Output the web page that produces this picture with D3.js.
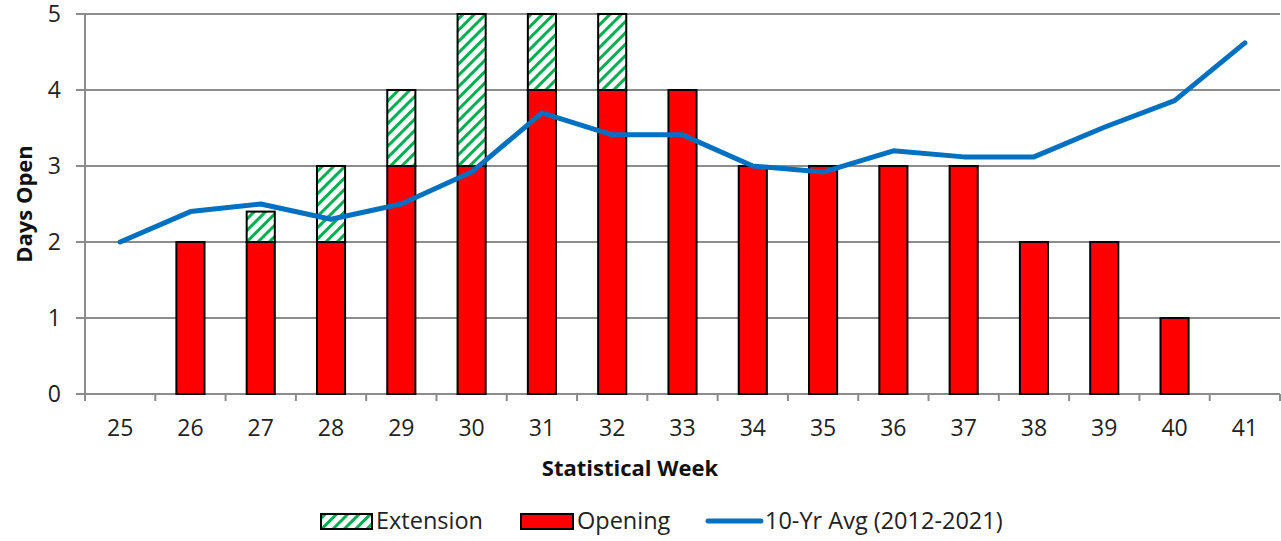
<!DOCTYPE html>
<html><head><meta charset="utf-8">
<script src="https://cdn.jsdelivr.net/npm/d3@7"></script>
<style>body{margin:0;background:#fff}svg{display:block}text{font-family:"Open Sans",sans-serif}</style>
</head><body><svg id="c" width="1281" height="541"></svg>
<script>
const weeks = ["25","26","27","28","29","30","31","32","33","34","35","36","37","38","39","40","41"];
const opening = [0,2,2,2,3,3,4,4,4,3,3,3,3,2,2,1,0];
const extension = [0,0,0.4,1,1,2,1,1,0,0,0,0,0,0,0,0,0];
const avg10 = [2.0,2.4,2.5,2.3,2.5,2.92,3.7,3.41,3.41,3.0,2.92,3.2,3.12,3.12,3.51,3.86,4.62];
const yTicks = [0,1,2,3,4,5];

const svg = d3.select("#c");
const L=85,R=1280,T=14,B=394;
const x = d3.scaleBand().domain(weeks).range([L,R]).paddingInner(0.6).paddingOuter(0.3);
const xb = d3.scaleBand().domain(weeks).range([L,R]);
const y = d3.scaleLinear().domain([0,5]).range([B,T]);

const defs = svg.append("defs");
const pat = defs.append("pattern").attr("id","hatch").attr("patternUnits","userSpaceOnUse")
  .attr("width",8).attr("height",8).attr("patternTransform","rotate(45)");
pat.append("rect").attr("width",8).attr("height",8).attr("fill","#fff");
pat.append("rect").attr("x",0).attr("width",3).attr("height",8).attr("fill","#00B050");

// gridlines
svg.append("g").selectAll("line").data(yTicks).join("line")
  .attr("x1",L-9).attr("x2",R).attr("y1",d=>y(d)).attr("y2",d=>y(d))
  .attr("stroke","#8c8c8c").attr("stroke-width",2);
// y axis line
svg.append("line").attr("x1",L).attr("x2",L).attr("y1",T).attr("y2",B).attr("stroke","#8c8c8c").attr("stroke-width",2);
// y labels
svg.append("g").selectAll("text").data(yTicks).join("text")
  .attr("x",61).attr("y",d=>y(d)+8).attr("text-anchor","end").attr("font-size",23).attr("fill","#222").text(d=>d);
// x ticks
const tickPos = weeks.map(w=>xb(w)).concat([R]);
svg.append("g").selectAll("line").data(tickPos).join("line")
  .attr("x1",d=>d).attr("x2",d=>d).attr("y1",B).attr("y2",B+7).attr("stroke","#8c8c8c").attr("stroke-width",2);
svg.append("g").selectAll("text").data(weeks).join("text")
  .attr("x",d=>xb(d)+xb.bandwidth()/2).attr("y",436).attr("text-anchor","middle").attr("font-size",23).attr("fill","#222").text(d=>d);

// bars
const g = svg.append("g");
weeks.forEach((w,i)=>{
  if(opening[i]>0) g.append("rect").attr("x",x(w)).attr("width",x.bandwidth())
    .attr("y",y(opening[i])).attr("height",y(0)-y(opening[i]))
    .attr("fill","#FF0000").attr("stroke","#000").attr("stroke-width",2);
  if(extension[i]>0) g.append("rect").attr("x",x(w)).attr("width",x.bandwidth())
    .attr("y",y(opening[i]+extension[i])).attr("height",y(opening[i])-y(opening[i]+extension[i]))
    .attr("fill","url(#hatch)").attr("stroke","#000").attr("stroke-width",2);
});

// line
const line = d3.line().x((d,i)=>xb(weeks[i])+xb.bandwidth()/2).y(d=>y(d));
svg.append("path").datum(avg10).attr("d",line).attr("fill","none")
  .attr("stroke","#0070C0").attr("stroke-width",5).attr("stroke-linejoin","round").attr("stroke-linecap","round");

// axis titles
svg.append("text").attr("x",630).attr("y",476).attr("text-anchor","middle")
  .attr("font-size",22).attr("font-weight","bold").attr("fill","#111").text("Statistical Week");
svg.append("text").attr("transform","translate(32,204) rotate(-90)").attr("text-anchor","middle")
  .attr("font-size",22).attr("font-weight","bold").attr("fill","#111").text("Days Open");

// legend
const lg = svg.append("g");
lg.append("rect").attr("x",321).attr("y",514).attr("width",51).attr("height",15).attr("fill","url(#hatch)").attr("stroke","#000").attr("stroke-width",2);
lg.append("text").attr("x",376).attr("y",529).attr("font-size",23.5).attr("fill","#222").text("Extension");
lg.append("rect").attr("x",521).attr("y",514).attr("width",52).attr("height",15).attr("fill","#FF0000").attr("stroke","#000").attr("stroke-width",2);
lg.append("text").attr("x",577).attr("y",529).attr("font-size",23.5).attr("fill","#222").text("Opening");
lg.append("line").attr("x1",708).attr("x2",761).attr("y1",521).attr("y2",521).attr("stroke","#0070C0").attr("stroke-width",5).attr("stroke-linecap","round");
lg.append("text").attr("x",765).attr("y",529).attr("font-size",23.5).attr("fill","#222").text("10-Yr Avg (2012-2021)");
</script></body></html>
